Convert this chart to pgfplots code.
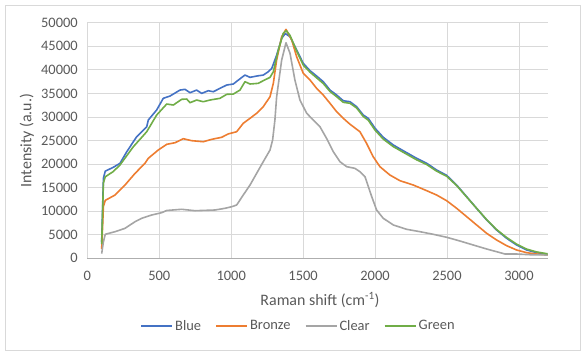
\documentclass[border=0pt]{standalone}
\usepackage{pgfplots}
\pgfplotsset{compat=1.18}
\usepackage{fontspec}
\setmainfont{Carlito}
\definecolor{cBlue}{HTML}{4472C4}
\definecolor{cOrange}{HTML}{ED7D31}
\definecolor{cGray}{HTML}{A5A5A5}
\definecolor{cGreen}{HTML}{70AD47}
\definecolor{txt}{HTML}{595959}
\definecolor{grd}{HTML}{D9D9D9}
\begin{document}
\begin{tikzpicture}
\useasboundingbox (-87.3bp,-96.7bp) rectangle (498.7bp,258.3bp);
\draw[color=grd, line width=0.75bp] (-82.3bp,-91.7bp) rectangle (492.7bp,253.3bp);
\begin{axis}[
  at={(0,0)}, anchor=south west,
  scale only axis, width=460.4bp, height=235.6bp,
  xmin=0, xmax=3200, ymin=0, ymax=50000,
  xtick={0,500,...,3000}, ytick={0,5000,...,50000},
  scaled ticks=false,
  grid=major, major grid style={color=grd, line width=0.75bp},
  axis x line*=bottom, axis y line*=left,
  x axis line style={color=grd!80!black, line width=0.75bp, -},
  y axis line style={draw=none},
  major tick length=0pt,
  tick label style={font=\fontsize{14.5}{16}\selectfont, color=txt},
  /pgf/number format/assume math mode=true,
  /pgf/number format/1000 sep={},
  xticklabel style={yshift=-9bp},
  yticklabel style={xshift=-6bp},
  xlabel={Raman shift (cm\textsuperscript{-1})},
  ylabel={Intensity (a.u.)},
  label style={font=\fontsize{16}{18}\selectfont, color=txt},
  xlabel style={at={(rel axis cs:0.5054,-0.177)}, anchor=center},
  ylabel style={at={(rel axis cs:-0.1316,0.5)}, anchor=center},
  legend columns=4,
  legend style={at={(0.4585,-0.287)}, anchor=center, draw=none, fill=none,
    font=\fontsize{14.5}{16}\selectfont, text=txt,
    /tikz/every even column/.append style={column sep=12bp}},
  legend image code/.code={\draw[#1, line width=2bp] (0bp,0bp) -- (31bp,0bp);},
  every axis plot/.append style={line width=1.6bp, line join=round},
]
\addplot[color=cBlue] coordinates {(100,3500)(112,17000)(125,18500)(180,19300)(227,20150)(274,22600)(343,25800)(413,27900)(424,29350)(482,31470)(528,33950)(575,34440)(644,35700)(679,35860)(714,35140)(760,35700)(795,35000)(841,35560)(876,35350)(922,36070)(969,36770)(1015,36990)(1050,37830)(1096,38890)(1131,38400)(1177,38680)(1223,38890)(1258,39590)(1282,40300)(1316,43100)(1351,46680)(1376,47700)(1409,47030)(1455,44200)(1501,41380)(1548,39810)(1594,38680)(1640,37480)(1687,35700)(1733,34650)(1779,33440)(1826,33230)(1872,32170)(1918,30410)(1953,29700)(2000,27590)(2057,25680)(2127,24040)(2196,22830)(2289,21220)(2359,20160)(2428,18740)(2498,17600)(2567,15550)(2637,13070)(2706,10600)(2776,8130)(2845,6000)(2915,4240)(2984,2820)(3054,1760)(3123,1200)(3200,850)};
\addlegendentry{Blue}
\addplot[color=cOrange] coordinates {(100,2000)(112,11000)(125,12300)(193,13430)(262,15550)(332,18030)(355,18740)(401,20160)(424,21220)(493,22980)(552,24190)(610,24530)(667,25380)(726,24960)(806,24740)(865,25250)(934,25680)(980,26400)(1038,26860)(1084,28650)(1131,29710)(1177,30770)(1223,32170)(1270,34290)(1293,37130)(1316,42080)(1351,47020)(1381,48590)(1421,46320)(1455,42780)(1501,39260)(1548,37830)(1594,36070)(1640,34650)(1687,32890)(1733,31110)(1779,29710)(1826,28450)(1895,26860)(1941,24400)(1987,21560)(2034,19440)(2103,17680)(2173,16470)(2266,15550)(2359,14350)(2428,13430)(2498,12220)(2567,10610)(2637,8830)(2706,7070)(2776,5300)(2845,3880)(2915,2670)(2984,1760)(3054,1190)(3123,910)(3200,700)};
\addlegendentry{Bronze}
\addplot[color=cGray] coordinates {(100,1000)(112,3500)(125,5100)(193,5650)(262,6360)(332,7770)(378,8490)(448,9190)(517,9680)(552,10150)(656,10400)(749,10100)(888,10250)(957,10610)(1004,10950)(1038,11310)(1084,13430)(1131,15550)(1177,18030)(1223,20500)(1270,22980)(1288,25100)(1304,29350)(1316,34290)(1351,42080)(1381,45750)(1409,43500)(1443,37830)(1478,33590)(1525,30770)(1571,29350)(1617,27930)(1664,25400)(1710,22620)(1756,20500)(1803,19440)(1860,19090)(1895,18380)(1930,17320)(1977,13070)(2011,10250)(2057,8490)(2127,7070)(2220,6150)(2312,5650)(2405,5090)(2498,4460)(2590,3670)(2683,2820)(2776,1970)(2845,1400)(2903,910)(2984,910)(3077,760)(3200,700)};
\addlegendentry{Clear}
\addplot[color=cGreen] coordinates {(100,3000)(112,16000)(125,17300)(180,18400)(227,19800)(320,23680)(413,26860)(482,30400)(552,32740)(598,32530)(656,33740)(691,33800)(714,33020)(760,33590)(806,33230)(853,33590)(922,33950)(969,34800)(1015,34860)(1061,35700)(1096,37480)(1131,36990)(1188,37130)(1223,37690)(1270,38400)(1293,39590)(1328,44200)(1362,47740)(1383,48300)(1409,47300)(1455,44000)(1501,41000)(1548,39500)(1594,38300)(1640,37100)(1687,35400)(1733,34300)(1779,33100)(1826,32900)(1872,31900)(1918,30100)(1953,29300)(2000,27200)(2057,25300)(2127,23700)(2196,22500)(2289,20900)(2359,19900)(2428,18500)(2498,17400)(2567,15450)(2637,13000)(2706,10600)(2776,8200)(2845,6100)(2915,4400)(2984,3000)(3054,1950)(3123,1350)(3200,950)};
\addlegendentry{Green}
\end{axis}
\end{tikzpicture}
\end{document}
